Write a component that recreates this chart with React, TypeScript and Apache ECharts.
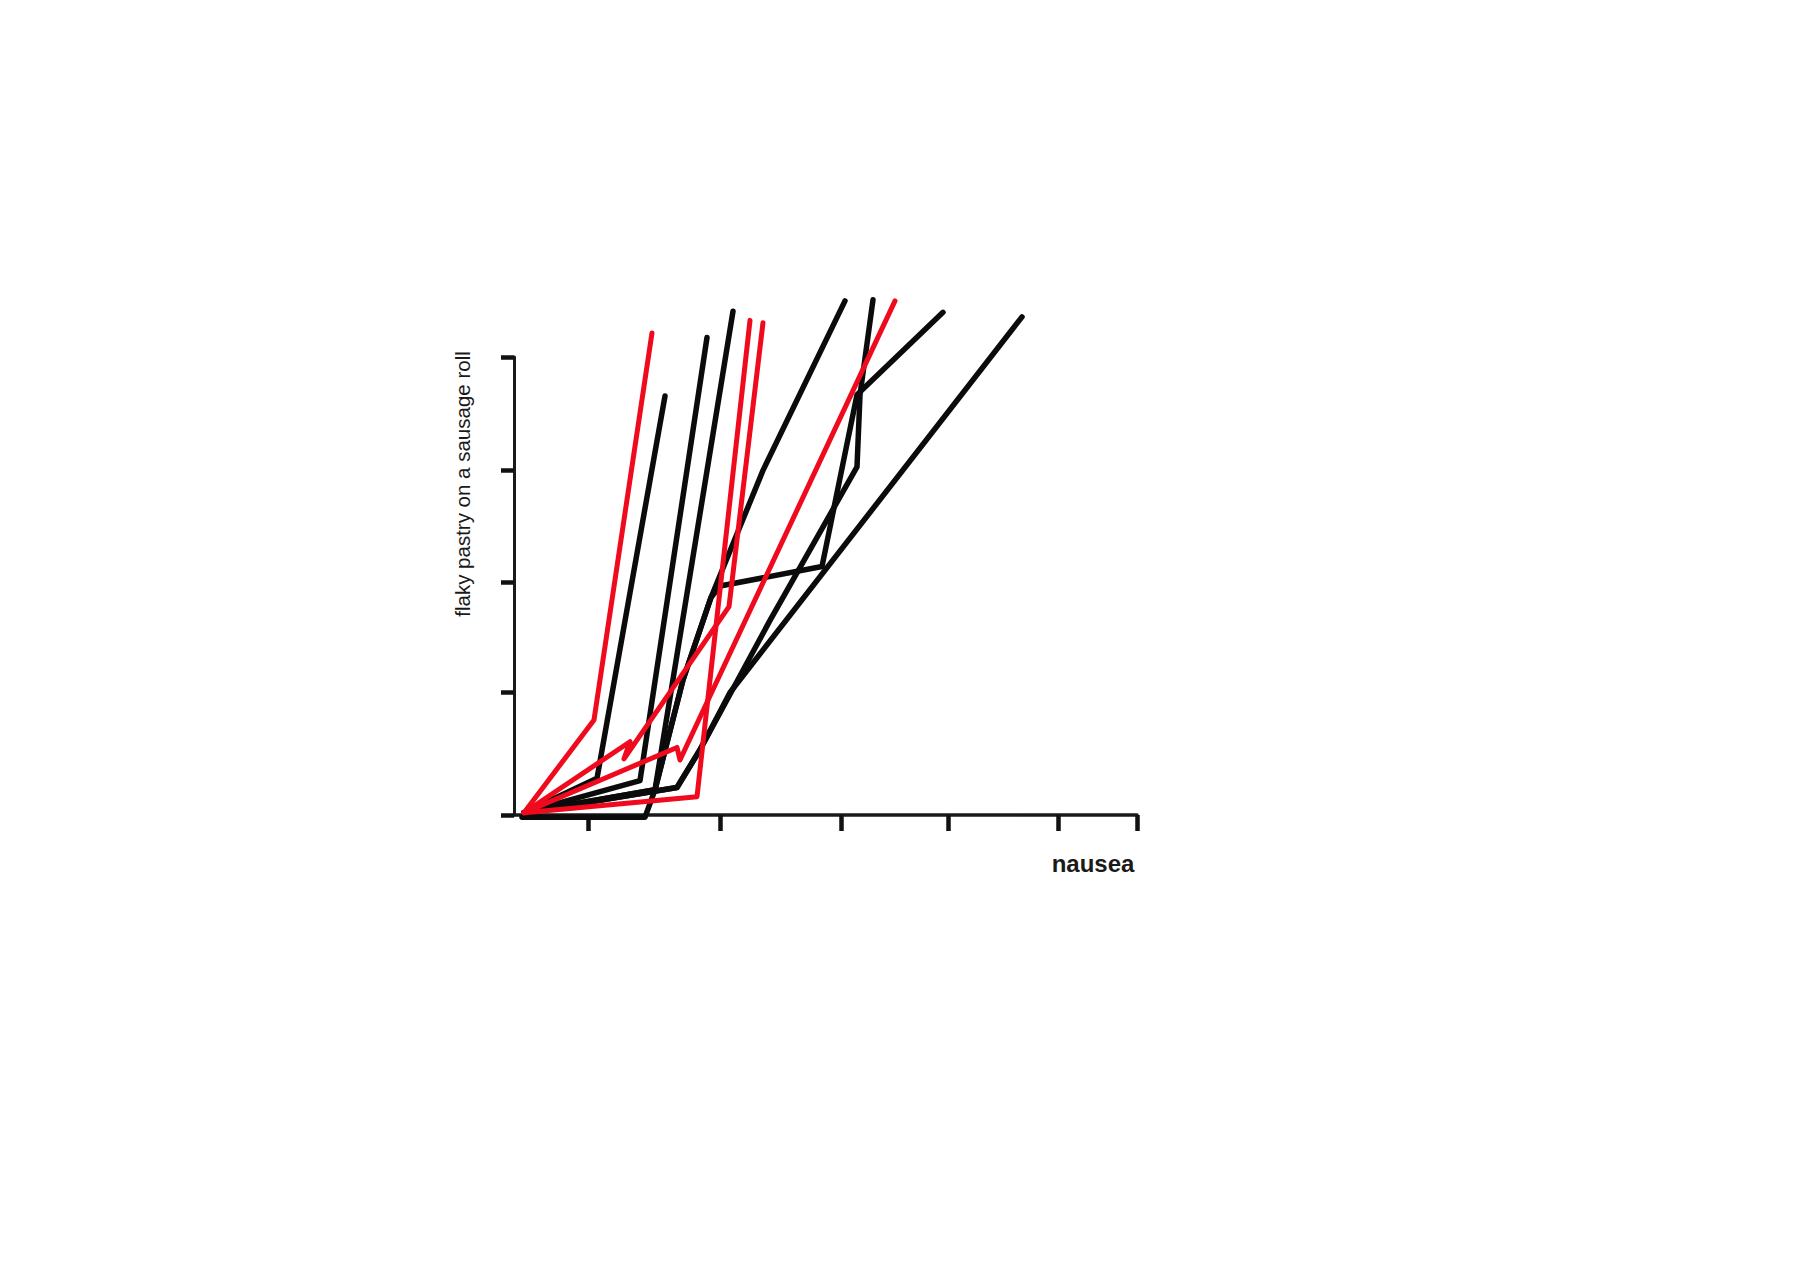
import React, { useEffect, useRef } from "react";
import * as echarts from "echarts";

// Axis tick positions (hand-drawn, irregular), in axis units
const xTickValues = [0.74, 2.06, 3.27, 4.34, 5.44, 6.23];
const yTickValues = [0, 1.07, 2.03, 3.01, 4];

// Red traces: [nausea, flaky pastry]
const redA = [[0.1, 0.02], [0.8, 0.83], [1.38, 4.21]];
const redB = [[0.1, 0.02], [1.16, 0.64], [1.1, 0.49], [2.15, 1.82], [2.49, 4.3]];
const redC = [[0.1, 0.02], [1.83, 0.16], [2.36, 4.32]];
const redD = [[0.1, 0.02], [1.63, 0.59], [1.66, 0.48], [3.81, 4.49]];

// Black traces
const blackA = [[0.1, 0.02], [0.83, 0.32], [1.51, 3.66]];
const blackB = [[0.1, 0.02], [1.26, 0.3], [1.93, 4.17]];
const blackC = [[0.08, -0.02], [1.31, -0.02], [1.41, 0.22], [2.19, 4.4]];
const blackD = [[0.1, 0.02], [1.41, 0.22], [1.69, 1.18], [1.97, 1.9], [2.49, 3.01], [3.31, 4.49]];
const blackE = [[0.1, 0.02], [1.41, 0.22], [1.69, 1.18], [1.97, 1.9], [2.06, 2.0], [3.08, 2.17], [3.43, 3.67], [4.29, 4.39]];
const blackF = [[0.1, 0.02], [1.63, 0.24], [1.86, 0.57], [2.56, 1.7], [3.43, 3.04], [3.46, 3.67], [3.59, 4.5]];
const blackG = [[0.1, 0.02], [1.63, 0.24], [1.86, 0.57], [2.16, 1.07], [5.08, 4.35]];

const blackTraces = [blackA, blackB, blackC, blackD, blackE, blackF, blackG];
const redTraces = [redA, redB, redC, redD];

const BLACK = "#0b0b0b";
const RED = "#f00a1e";

export default function App() {
  const ref = useRef<HTMLDivElement>(null);
  useEffect(() => {
    if (!ref.current) return;
    const chart = echarts.init(ref.current, undefined, { renderer: "svg" });
    const mk = (data: number[][], color: string, width: number) => ({
      type: "line",
      data,
      symbol: "none",
      clip: false,
      silent: true,
      lineStyle: { color, width, cap: "round", join: "round" },
    });
    chart.setOption({
      animation: false,
      backgroundColor: "#ffffff",
      grid: { left: 514, right: 663, top: 357, bottom: 460, containLabel: false },
      xAxis: {
        type: "value",
        min: 0,
        max: 6.23,
        splitLine: { show: false },
        axisLabel: { show: false },
        axisLine: { show: true, onZero: false, lineStyle: { color: "#1a1a1a", width: 3.5 } },
        axisTick: {
          show: true,
          customValues: xTickValues,
          length: 16,
          lineStyle: { color: "#111", width: 4.5 },
        },
      },
      yAxis: {
        type: "value",
        min: 0,
        max: 4,
        splitLine: { show: false },
        axisLabel: { show: false },
        axisLine: { show: true, onZero: false, lineStyle: { color: "#1a1a1a", width: 3 } },
        axisTick: {
          show: true,
          customValues: yTickValues,
          length: 13,
          lineStyle: { color: "#111", width: 4.5 },
        },
      },
      series: [
        ...blackTraces.map((d) => mk(d, BLACK, 5.5)),
        ...redTraces.map((d) => mk(d, RED, 5)),
      ],
      graphic: [
        {
          type: "text",
          x: 462,
          y: 484,
          rotation: Math.PI / 2,
          style: {
            text: "flaky pastry on a sausage roll",
            font: '20.5px "Liberation Sans", Arial, sans-serif',
            fill: "#1a1a1a",
            align: "center",
            verticalAlign: "middle",
          },
        },
        {
          type: "text",
          x: 1093,
          y: 863,
          style: {
            text: "nausea",
            font: 'bold 24px "Liberation Sans", Arial, sans-serif',
            fill: "#1a1a1a",
            align: "center",
            verticalAlign: "middle",
          },
        },
      ],
    });
    return () => chart.dispose();
  }, []);
  return (
    <div
      ref={ref}
      style={{ position: "fixed", left: 0, top: 0, width: 1800, height: 1275, background: "#fff" }}
    />
  );
}
